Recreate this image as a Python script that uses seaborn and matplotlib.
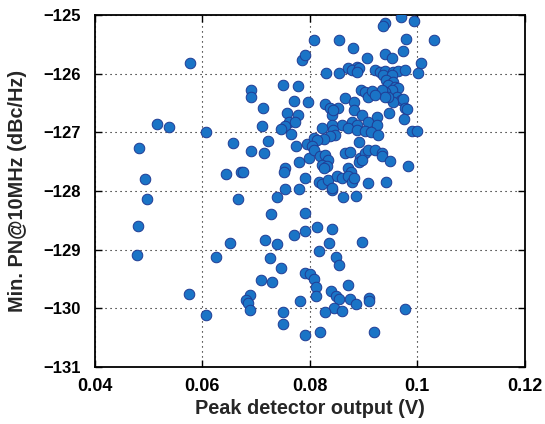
import matplotlib
matplotlib.use("Agg")
import matplotlib.pyplot as plt
import seaborn as sns
import pandas as pd

peak_v = [
    0.0578, 0.0786, 0.0792, 0.0690, 0.0690, 0.0751, 0.0779, 0.0771, 0.0797, 0.0713,
    0.0758, 0.0779, 0.0761, 0.0772, 0.0755, 0.0747, 0.0766, 0.0516, 0.0539, 0.0607,
    0.0712, 0.0483, 0.0658, 0.0722, 0.0690, 0.0716, 0.0774, 0.0795, 0.0780, 0.0798,
    0.0754, 0.0752, 0.0644, 0.0672, 0.0676, 0.0493, 0.0792, 0.0754, 0.0780, 0.0497,
    0.0666, 0.0740, 0.0729, 0.0480, 0.0791, 0.0771, 0.0791, 0.0717, 0.0740, 0.0652,
    0.0478, 0.0626, 0.0727, 0.0747, 0.0792, 0.0710, 0.0730, 0.0576, 0.0689, 0.0681,
    0.0686, 0.0689, 0.0782, 0.0608, 0.0751, 0.0751, 0.0792, 0.0814, 0.0841, 0.0837,
    0.0898, 0.0817, 0.0849, 0.0854, 0.0800, 0.0808, 0.0811, 0.0811, 0.0872, 0.0840,
    0.0849, 0.0855, 0.0876, 0.0886, 0.0911, 0.0911, 0.0846, 0.0861, 0.0829, 0.0977,
    0.0820, 0.0920, 0.0841, 0.0862, 0.0886, 0.0970, 0.0941, 0.0937, 0.0994, 0.1031,
    0.0809, 0.0855, 0.0979, 0.0880, 0.0974, 0.0906, 0.0941, 0.0954, 0.1008, 0.1002,
    0.0830, 0.0855, 0.0872, 0.0888, 0.0879, 0.0892, 0.0888, 0.0922, 0.0931, 0.0940,
    0.0956, 0.0965, 0.0977, 0.0937, 0.0953, 0.0943, 0.0956, 0.0946, 0.0959, 0.0965,
    0.0953, 0.0940, 0.0962, 0.0971, 0.0956, 0.0946, 0.0934, 0.0940, 0.0896, 0.0903,
    0.0909, 0.0917, 0.0922, 0.0866, 0.0882, 0.0829, 0.0838, 0.0841, 0.0852, 0.0844,
    0.0882, 0.0974, 0.0977, 0.0982, 0.0948, 0.0926, 0.0976, 0.0897, 0.0909, 0.0926,
    0.0879, 0.0888, 0.0860, 0.0841, 0.0872, 0.0888, 0.0903, 0.0915, 0.0928, 0.0844,
    0.0848, 0.0823, 0.0838, 0.0826, 0.0808, 0.0814, 0.0805, 0.0808, 0.0891, 0.0866,
    0.0875, 0.0894, 0.0903, 0.0909, 0.0922, 0.0934, 0.0934, 0.0949, 0.0891, 0.0897,
    0.0990, 0.0999, 0.0983, 0.0820, 0.0829, 0.0835, 0.0823, 0.0832, 0.0826, 0.0872,
    0.0877, 0.0817, 0.0823, 0.0835, 0.0841, 0.0851, 0.0860, 0.0872, 0.0879, 0.0882,
    0.0909, 0.0942,
]

min_pn = [
    -125.81, -125.77, -125.68, -126.28, -126.39, -126.19, -126.21, -126.46, -126.49, -126.59,
    -126.67, -126.70, -126.82, -126.83, -126.90, -126.94, -127.02, -126.86, -126.91, -127.00,
    -126.90, -127.27, -127.18, -127.14, -127.31, -127.36, -127.24, -127.20, -127.50, -127.44,
    -127.60, -127.67, -127.71, -127.67, -127.67, -127.79, -127.78, -127.96, -127.96, -128.13,
    -128.13, -128.11, -128.39, -128.59, -128.38, -128.75, -128.69, -128.83, -128.91, -128.89,
    -129.09, -129.13, -129.15, -129.32, -129.40, -129.51, -129.55, -129.75, -129.77, -129.86,
    -129.91, -130.03, -129.87, -130.11, -130.07, -130.26, -130.46, -128.62, -128.65, -128.89,
    -128.87, -129.03, -129.12, -129.26, -129.41, -129.50, -129.64, -129.79, -129.61, -129.70,
    -129.79, -129.84, -129.84, -129.93, -129.82, -129.87, -129.99, -130.05, -130.07, -130.01,
    -130.41, -130.40, -127.98, -128.11, -128.08, -125.03, -125.14, -125.19, -125.10, -125.43,
    -125.43, -125.43, -125.41, -125.57, -125.61, -125.73, -125.67, -125.73, -125.81, -125.98,
    -125.98, -125.99, -125.90, -125.88, -125.94, -125.91, -125.97, -125.94, -125.97, -125.95,
    -125.97, -125.95, -125.94, -126.02, -126.02, -126.11, -126.14, -126.19, -126.22, -126.25,
    -126.28, -126.31, -126.39, -126.45, -126.48, -126.39, -126.28, -126.39, -126.28, -126.31,
    -126.39, -126.29, -126.36, -126.42, -126.48, -126.52, -126.59, -126.70, -126.59, -126.62,
    -126.62, -126.44, -126.59, -126.61, -126.67, -126.73, -126.78, -126.70, -126.82, -126.87,
    -126.83, -126.87, -126.87, -126.87, -126.93, -126.96, -126.98, -126.99, -127.04, -126.96,
    -127.04, -126.93, -127.06, -127.12, -127.10, -127.13, -127.24, -127.30, -127.16, -127.36,
    -127.33, -127.44, -127.36, -127.30, -127.30, -127.36, -127.41, -127.49, -127.50, -127.47,
    -126.98, -126.98, -127.58, -127.41, -127.39, -127.47, -127.56, -127.58, -127.61, -127.61,
    -127.67, -127.84, -127.88, -127.81, -127.95, -127.74, -127.78, -127.75, -127.84, -127.78,
    -127.87, -127.84,
]

x_ticks = [0.04, 0.06, 0.08, 0.1, 0.12]
x_tick_labels = ["0.04", "0.06", "0.08", "0.1", "0.12"]
y_ticks = [-131, -130, -129, -128, -127, -126, -125]
y_tick_labels = ["\u2212131", "\u2212130", "\u2212129", "\u2212128", "\u2212127", "\u2212126", "\u2212125"]

df = pd.DataFrame({"peak": peak_v, "pn": min_pn})

sns.set_theme(style="white")
plt.rcParams["font.family"] = ["Liberation Sans", "DejaVu Sans"]
plt.rcParams["font.weight"] = "bold"

fig = plt.figure(figsize=(5.45, 4.24), dpi=100)
ax = fig.add_axes([0.1738, 0.1344, 0.7886, 0.8302])

sns.scatterplot(data=df, x="peak", y="pn", ax=ax, s=58, color="#1A74C6",
                edgecolor="#203C94", linewidth=0.7, zorder=3, legend=False)

ax.set_xlim(0.04, 0.12)
ax.set_ylim(-131, -125)
ax.set_xticks(x_ticks)
ax.set_xticklabels(x_tick_labels)
ax.set_yticks(y_ticks)
ax.set_yticklabels(y_tick_labels)

ax.grid(True, color="black", linestyle=(0, (1, 3.5)), linewidth=0.8, zorder=0)
for sp in ax.spines.values():
    sp.set_color("black")
    sp.set_linewidth(1.3)
ax.tick_params(direction="in", length=5, width=1, top=True, right=True,
               bottom=True, left=True, colors="black")
ax.tick_params(axis="x", labelsize=13, pad=8)
ax.tick_params(axis="y", labelsize=12, pad=10)
for lab in ax.get_xticklabels() + ax.get_yticklabels():
    lab.set_fontweight("bold")

ax.set_xlabel("Peak detector output (V)", fontsize=14.3, fontweight="bold", labelpad=3)
ax.set_ylabel("Min. PN@10MHz (dBc/Hz)", fontsize=14.3, fontweight="bold", labelpad=12)

fig.savefig("out.png", dpi=100)
